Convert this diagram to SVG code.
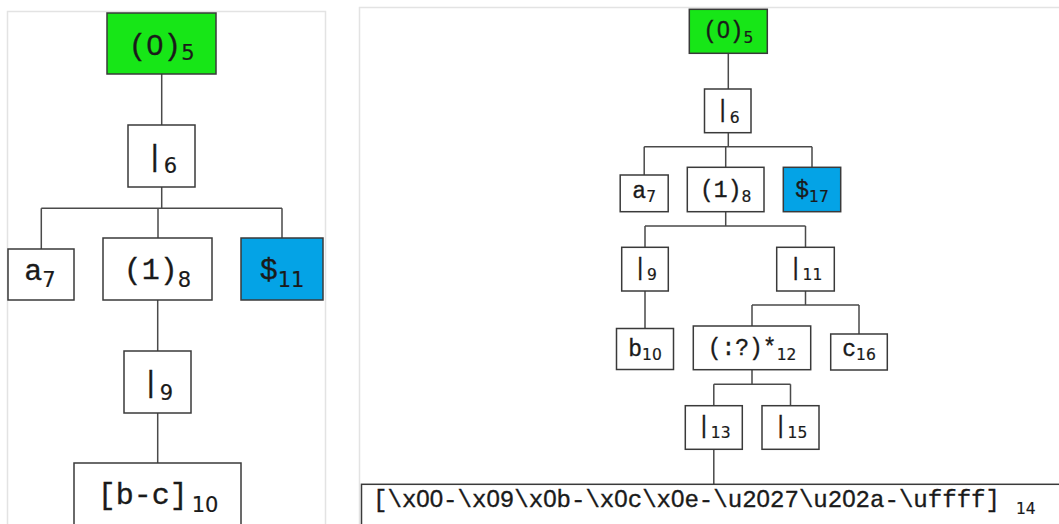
<svg xmlns="http://www.w3.org/2000/svg" width="1059" height="524" viewBox="0 0 1059 524">
  <defs>
    <style>
      .panel { fill: #ffffff; stroke: #e3e3e3; stroke-width: 1.5; }
      .box { fill: #ffffff; stroke: #3a3a3a; stroke-width: 1.5; }
      .grp { fill: #17e617; }
      .end { fill: #04a3e6; }
      .wire { fill: none; stroke: #4a4a4a; stroke-width: 1.5; }
      .lbl { font-family: "Liberation Mono", "DejaVu Sans Mono", monospace; fill: #1a1a1a; stroke: #1a1a1a; stroke-width: 0.35; text-anchor: middle; }
      .big { font-size: 30px; }
      .small { font-size: 23px; }
      .sub { font-family: "DejaVu Sans", "Liberation Sans", sans-serif; stroke-width: 0.2; }
      .big .sub { font-size: 21px; }
      .small .sub { font-size: 15.5px; }
      /* plain (undotted) zero inside the typewriter labels */
      .z { font-family: "Liberation Sans", "DejaVu Sans", sans-serif; }
    </style>
  </defs>

  <rect width="1059" height="524" fill="#ffffff"/>

  <!-- left tree panel -->
  <rect class="panel" x="7.5" y="11.5" width="318" height="530"/>
  <!-- right tree panel -->
  <rect class="panel" x="359.5" y="7.5" width="720" height="530"/>

  <g id="connectors">
    <!-- left tree -->
    <path class="wire" d="M161.7 74 V125 M161.7 187 V208.3 M41.3 208.3 H282 M41.3 208.3 V249.3 M158 208.3 V238 M282 208.3 V238 M157.7 300 V351 M157.7 413 V463"/>
    <!-- right tree -->
    <path class="wire" d="M728.3 53.3 V89 M728.3 132.7 V146.7 M644.2 146.7 H812 M644.2 146.7 V175 M725.7 146.7 V167.3 M812 146.7 V167.3"/>
    <path class="wire" d="M725.7 211.7 V226 M645 226 H805.5 M645 226 V247.3 M805.5 226 V247.3 M645 291 V328.5"/>
    <path class="wire" d="M805.5 291 V305 M752 305 H859 M752 305 V326 M859 305 V334"/>
    <path class="wire" d="M752 369.7 V384.3 M713.8 384.3 H790.5 M713.8 384.3 V405.7 M790.5 384.3 V405.7 M713.8 449.3 V484.3"/>
  </g>

  <!-- left tree nodes -->
  <g id="L5">
    <rect class="box grp" x="107" y="13" width="109" height="61"/>
    <text class="lbl big" x="161.5" y="55">(<tspan class="z">0</tspan>)<tspan class="sub" dy="5">5</tspan></text>
  </g>
  <g id="L6">
    <rect class="box" x="128" y="125" width="67" height="62"/>
    <text class="lbl big" x="161.5" y="166">|<tspan class="sub" dy="7">6</tspan></text>
  </g>
  <g id="L7">
    <rect class="box" x="8" y="249" width="66" height="51"/>
    <text class="lbl big" x="40" y="280">a<tspan class="sub" dy="7">7</tspan></text>
  </g>
  <g id="L8">
    <rect class="box" x="103" y="238" width="109" height="62"/>
    <text class="lbl big" x="157.5" y="279">(1)<tspan class="sub" dy="8">8</tspan></text>
  </g>
  <g id="L11">
    <rect class="box end" x="241" y="238" width="82" height="62"/>
    <text class="lbl big" x="282" y="279">$<tspan class="sub" dy="8">11</tspan></text>
  </g>
  <g id="L9">
    <rect class="box" x="124" y="351" width="67" height="62"/>
    <text class="lbl big" x="157.5" y="392">|<tspan class="sub" dy="8">9</tspan></text>
  </g>
  <g id="L10">
    <rect class="box" x="74" y="463" width="167" height="80"/>
    <text class="lbl big" x="158" y="504">[b-c]<tspan class="sub" dx="4" dy="8">10</tspan></text>
  </g>

  <!-- right tree nodes -->
  <g id="R5">
    <rect class="box grp" x="689.3" y="9.3" width="78" height="44"/>
    <text class="lbl small" x="728.3" y="38">(<tspan class="z">0</tspan>)<tspan class="sub" dy="5">5</tspan></text>
  </g>
  <g id="R6">
    <rect class="box" x="704.5" y="89" width="46.5" height="43.7"/>
    <text class="lbl small" x="727.7" y="117">|<tspan class="sub" dy="6">6</tspan></text>
  </g>
  <g id="R7">
    <rect class="box" x="620.2" y="175" width="48" height="36.7"/>
    <text class="lbl small" x="644.2" y="198">a<tspan class="sub" dy="4">7</tspan></text>
  </g>
  <g id="R8">
    <rect class="box" x="687.3" y="167.3" width="76.7" height="44.4"/>
    <text class="lbl small" x="725.7" y="197">(1)<tspan class="sub" dy="5">8</tspan></text>
  </g>
  <g id="R17">
    <rect class="box end" x="783.3" y="167.3" width="57.4" height="44.4"/>
    <text class="lbl small" x="812" y="197">$<tspan class="sub" dy="4.5">17</tspan></text>
  </g>
  <g id="R9">
    <rect class="box" x="621.7" y="247.3" width="46.6" height="43.7"/>
    <text class="lbl small" x="645" y="275">|<tspan class="sub" dy="5">9</tspan></text>
  </g>
  <g id="R11">
    <rect class="box" x="776.7" y="247.3" width="57.6" height="43.7"/>
    <text class="lbl small" x="805.5" y="275">|<tspan class="sub" dy="5">11</tspan></text>
  </g>
  <g id="R10">
    <rect class="box" x="616.5" y="328.5" width="57" height="41"/>
    <text class="lbl small" x="645" y="356">b<tspan class="sub" dy="3.5">10</tspan></text>
  </g>
  <g id="R12">
    <rect class="box" x="693.3" y="326" width="117.4" height="43.7"/>
    <text class="lbl small" x="752" y="355">(:?)*<tspan class="sub" dy="4.5">12</tspan></text>
  </g>
  <g id="R16">
    <rect class="box" x="830.7" y="334" width="56.6" height="36"/>
    <text class="lbl small" x="859" y="356">c<tspan class="sub" dy="3.5">16</tspan></text>
  </g>
  <g id="R13">
    <rect class="box" x="685.3" y="405.7" width="57" height="43.6"/>
    <text class="lbl small" x="713.8" y="433">|<tspan class="sub" dy="5">13</tspan></text>
  </g>
  <g id="R15">
    <rect class="box" x="762" y="405.7" width="57" height="43.6"/>
    <text class="lbl small" x="790.5" y="433">|<tspan class="sub" dy="5">15</tspan></text>
  </g>
  <g id="R14">
    <rect class="box" x="361.5" y="484.3" width="720" height="60"/>
    <text class="lbl small" style="text-anchor:start" x="373" y="507"><tspan font-size="24" textLength="627" lengthAdjust="spacingAndGlyphs">[\x<tspan class="z">00</tspan>-\x<tspan class="z">0</tspan>9\x<tspan class="z">0</tspan>b-\x<tspan class="z">0</tspan>c\x<tspan class="z">0</tspan>e-\u2<tspan class="z">0</tspan>27\u2<tspan class="z">0</tspan>2a-\uffff]</tspan><tspan class="sub" font-size="17" x="1016" y="514">14</tspan></text>
  </g>
</svg>
